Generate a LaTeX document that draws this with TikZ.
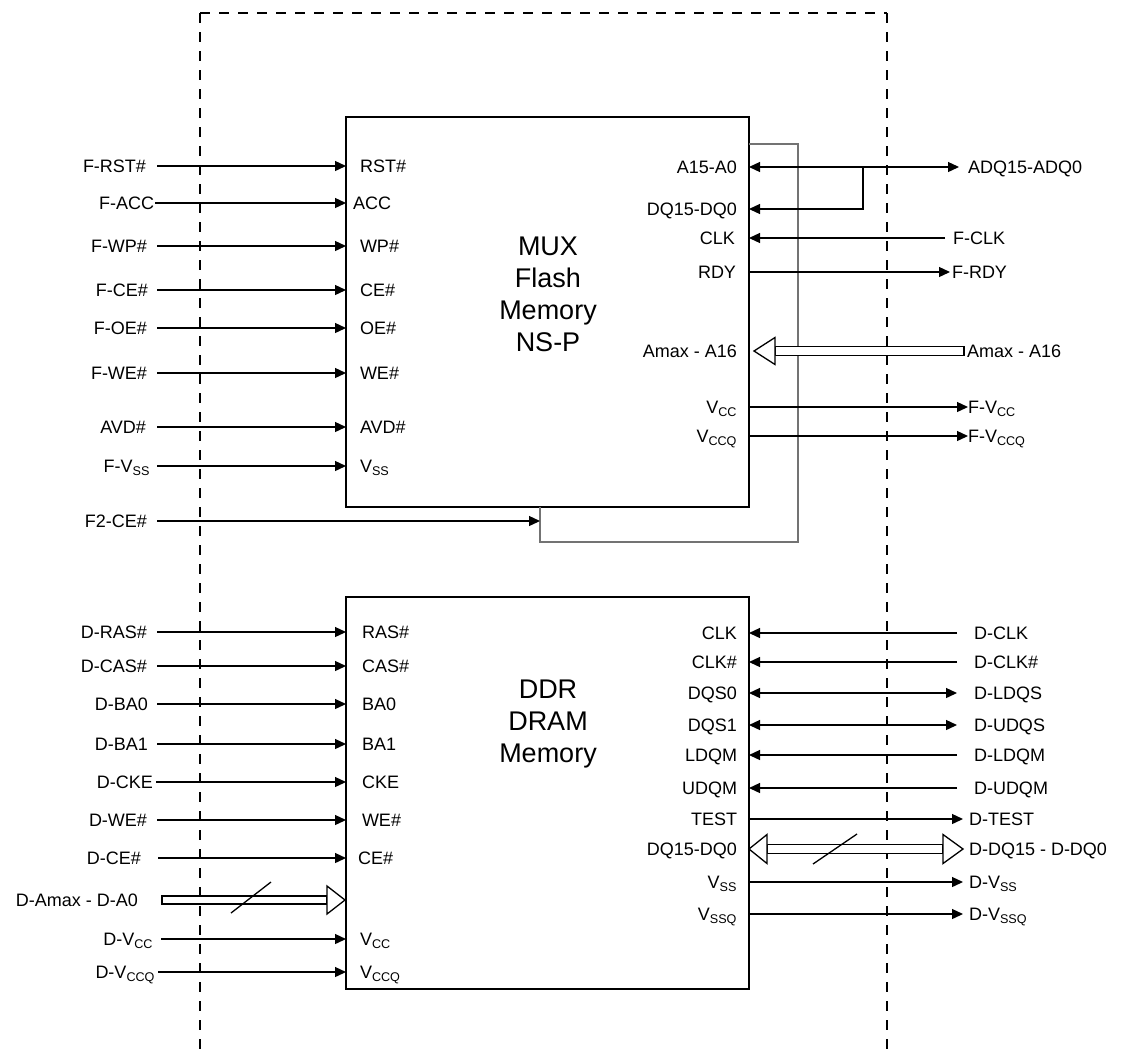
\documentclass[tikz,border=0pt]{standalone}
\usepackage{fontspec}
\setmainfont{Liberation Sans}
\usetikzlibrary{arrows.meta,calc}
\begin{document}
\begin{tikzpicture}[x=1pt,y=-1pt,
  tipA/.tip={Triangle[length=11pt,width=10pt]},
  sig/.style={line width=1.3pt,-tipA},
  bsig/.style={line width=1.3pt,tipA-tipA},
  wire/.style={line width=1.3pt},
  lbl/.style={font=\fontsize{18}{20}\selectfont,inner sep=0pt,outer sep=0pt,text height=16pt,text depth=3pt},
  big/.style={font=\fontsize{27}{32}\selectfont,align=center,inner sep=0pt},
  chip/.style={draw,line width=1.3pt,inner sep=0pt,outer sep=0pt},
  bus/.style={line width=1.3pt,fill=white,line join=miter},
  frame/.style={line width=2.6pt,dash pattern=on 10pt off 9pt},
  grey/.style={line width=1.6pt,draw=black!55}
]
\useasboundingbox (0,0) rectangle (1129,1050);

% dashed frame
\coordinate (fr1) at (200,1050);
\coordinate (fr2) at (200,13);
\coordinate (fr3) at (887,13);
\coordinate (fr4) at (887,1050);
\draw[frame] (fr2) -- (fr3);
\draw[frame] (fr2) -- (fr1);
\draw[frame] (fr3) -- (fr4);

% chips
\node[chip,minimum width=403pt,minimum height=390pt,anchor=north west] (flash) at (346,117) {};
\node[chip,minimum width=403pt,minimum height=392pt,anchor=north west] (ddr) at (346,597) {};
\node[big] (flashname) at (548,294) {MUX\\Flash\\Memory\\NS-P};
\node[big] (ddrname) at (548,724) {DDR\\DRAM\\Memory};

% flash left side
\foreach \yy/\ex/\ee/\gp/\inn/\ix/\id in {
  166/F-RST\#/146/11/RST\#/360/a,
  203/F-ACC/154/1/ACC/353/b,
  246/F-WP\#/147/10/WP\#/360/c,
  290/F-CE\#/148/9/CE\#/360/d,
  328/F-OE\#/147/10/OE\#/360/e,
  373/F-WE\#/147/10/WE\#/360/f,
  427/AVD\#/146/11/AVD\#/360/g,
  466/F-V\textsubscript{SS}/150/7/V\textsubscript{SS}/360/h}
{
  \node[lbl,anchor=east] (FL\id) at (\ee,\yy) {\ex};
  \node[lbl,anchor=west] (FI\id) at (\ix,\yy) {\inn};
  \draw[sig] ([xshift=\gp pt]FL\id.east) -- (FL\id.east -| flash.west);
}

% grey loop and F2-CE#
\coordinate (g1) at (749,144);
\coordinate (g2) at (798,144);
\coordinate (g3) at (798,542);
\coordinate (g4) at (540,542);
\coordinate (g5) at (540,507);
\draw[grey] (g1) -- (g2) -- (g3) -- (g4) -- (g5);
\node[lbl,anchor=east] (F2) at (147,521) {F2-CE\#};
\draw[sig] ([xshift=10pt]F2.east) -- (F2.east -| g5);

% flash right side
\node[lbl,anchor=east] (FRa) at (737,167) {A15-A0};
\node[lbl,anchor=east] (FRb) at (737,209) {DQ15-DQ0};
\node[lbl,anchor=east] (FRc) at (735,238) {CLK};
\node[lbl,anchor=east] (FRd) at (736,272) {RDY};
\node[lbl,anchor=east] (FRe) at (737,351) {Amax - A16};
\node[lbl,anchor=east] (FRf) at (737,407) {V\textsubscript{CC}};
\node[lbl,anchor=east] (FRg) at (737,436) {V\textsubscript{CCQ}};

\node[lbl,anchor=west] (FXa) at (968,167) {ADQ15-ADQ0};
\node[lbl,anchor=west] (FXc) at (953,238) {F-CLK};
\node[lbl,anchor=west] (FXd) at (952,272) {F-RDY};
\node[lbl,anchor=west] (FXe) at (967,351) {Amax - A16};
\node[lbl,anchor=west] (FXf) at (968,407) {F-V\textsubscript{CC}};
\node[lbl,anchor=west] (FXg) at (968,436) {F-V\textsubscript{CCQ}};

\draw[bsig] (FRa.center -| flash.east) -- ([xshift=-9pt]FXa.west);
\coordinate (J) at (863,167);
\draw[sig] (J) |- (FRb.center -| flash.east);
\draw[sig] ([xshift=-8pt]FXc.west) -- (FXc.west -| flash.east);
\draw[sig] (FRd.center -| flash.east) -- ([xshift=-2pt]FXd.west);
\draw[sig] (FRf.center -| flash.east) -- (FXf.west);
\draw[sig] (FRg.center -| flash.east) -- (FXg.west);

% Amax - A16 bus (hollow, pointing into the flash)
\coordinate (ba) at (flash.east |- FRe.center);
\coordinate (be) at ($(FXe.west)+(-3,0)$);
\draw[bus] ($(be)+(0,-4.5)$) -- ($(ba)+(26,-4.5)$) -- ($(ba)+(26,4.5)$) -- ($(be)+(0,4.5)$) -- cycle;
\draw[bus] ($(ba)+(5,0)$) -- ($(ba)+(26,-13.5)$) -- ($(ba)+(26,13.5)$) -- cycle;

% DDR left side
\foreach \yy/\ex/\ee/\gp/\inn/\ix/\id in {
  632/D-RAS\#/147/10/RAS\#/362/a,
  666/D-CAS\#/147/10/CAS\#/362/b,
  704/D-BA0/148/9/BA0/362/c,
  744/D-BA1/148/9/BA1/362/d,
  782/D-CKE/153/3/CKE/362/e,
  820/D-WE\#/147/10/WE\#/362/f,
  858/D-CE\#/141/17/CE\#/358/g,
  939/D-V\textsubscript{CC}/153/8/V\textsubscript{CC}/360/h,
  972/D-V\textsubscript{CCQ}/155/3/V\textsubscript{CCQ}/360/i}
{
  \node[lbl,anchor=east] (DL\id) at (\ee,\yy) {\ex};
  \node[lbl,anchor=west] (DI\id) at (\ix,\yy) {\inn};
  \draw[sig] ([xshift=\gp pt]DL\id.east) -- (DL\id.east -| ddr.west);
}

% D-Amax bus
\node[lbl,anchor=east] (DAm) at (138,900) {D-Amax - D-A0};
\coordinate (da) at (ddr.west |- DAm.center);
\coordinate (ds) at ($(DAm.east)+(24,0)$);
\draw[bus] ($(ds)+(0,-4)$) -- ($(da)+(-19,-4)$) -- ($(da)+(-19,4)$) -- ($(ds)+(0,4)$) -- cycle;
\draw[bus] ($(da)+(-1,0)$) -- ($(da)+(-19,-14)$) -- ($(da)+(-19,14)$) -- cycle;
\coordinate (sa1) at (231,913);
\coordinate (sa2) at (271,882);
\draw[wire] (sa1) -- (sa2);

% DDR right side
\foreach \yy/\inn/\ex/\id in {
  633/CLK/D-CLK/a,
  662/CLK\#/D-CLK\#/b,
  693/DQS0/D-LDQS/c,
  725/DQS1/D-UDQS/d,
  755/LDQM/D-LDQM/e,
  788/UDQM/D-UDQM/f}
{
  \node[lbl,anchor=east] (DR\id) at (737,\yy) {\inn};
  \node[lbl,anchor=west] (DX\id) at (974,\yy) {\ex};
}
\foreach \id in {a,b,e,f}{\draw[sig] ([xshift=-17pt]DX\id.west) -- (DX\id.west -| ddr.east);}
\foreach \id in {c,d}{\draw[bsig] (DR\id.center -| ddr.east) -- ([xshift=-17pt]DX\id.west);}

\foreach \yy/\inn/\ex/\id in {
  819/TEST/D-TEST/g,
  882/V\textsubscript{SS}/D-V\textsubscript{SS}/i,
  914/V\textsubscript{SSQ}/D-V\textsubscript{SSQ}/j}
{
  \node[lbl,anchor=east] (DR\id) at (737,\yy) {\inn};
  \node[lbl,anchor=west] (DX\id) at (969,\yy) {\ex};
  \draw[sig] (DR\id.center -| ddr.east) -- ([xshift=-6pt]DX\id.west);
}

% DQ bus
\node[lbl,anchor=east] (DRh) at (737,849) {DQ15-DQ0};
\node[lbl,anchor=west] (DXh) at (969,849) {D-DQ15 - D-DQ0};
\coordinate (db) at (ddr.east |- DRh.center);
\coordinate (dt) at ([xshift=-6pt]DXh.west);
\draw[bus] ($(db)+(18,-4.5)$) -- ($(dt)+(-20,-4.5)$) -- ($(dt)+(-20,4.5)$) -- ($(db)+(18,4.5)$) -- cycle;
\draw[bus] (db) -- ($(db)+(18,-14.5)$) -- ($(db)+(18,14.5)$) -- cycle;
\draw[bus] (dt) -- ($(dt)+(-20,-14.5)$) -- ($(dt)+(-20,14.5)$) -- cycle;
\coordinate (sb1) at (813,864);
\coordinate (sb2) at (857,834);
\draw[wire] (sb1) -- (sb2);
\end{tikzpicture}
\end{document}
